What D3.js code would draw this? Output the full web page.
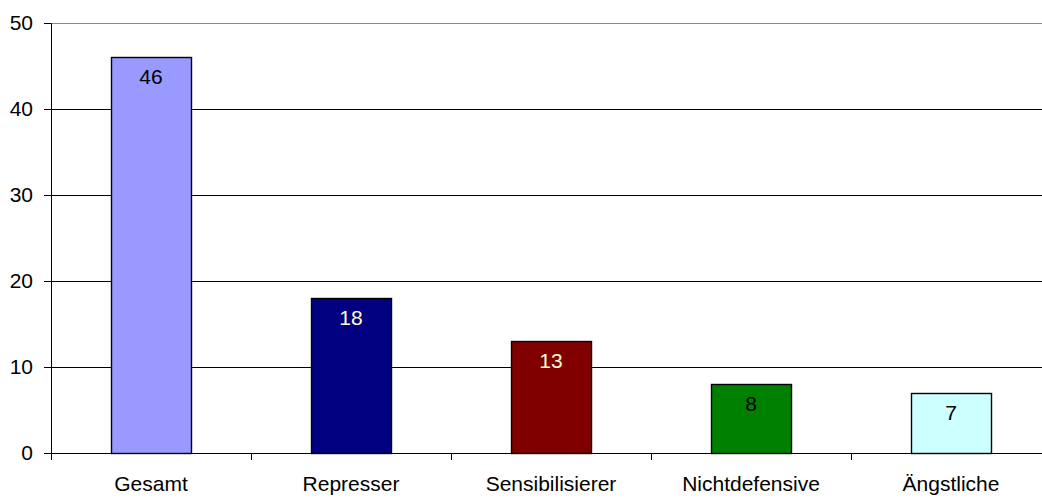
<!DOCTYPE html>
<html lang="de">
<head>
<meta charset="UTF-8">
<title>Gruppen</title>
<script src="https://cdn.jsdelivr.net/npm/d3@7"></script>
<style>
  body { margin: 0; background: #fff; }
  svg text { font-family: "Liberation Sans", Arial, sans-serif; font-size: 21px; }
</style>
</head>
<body>
<div id="grafica"></div>
<script>
// data
const categories = ['Gesamt', 'Represser', 'Sensibilisierer', 'Nichtdefensive', 'Ängstliche']
const values = [46, 18, 13, 8, 7]
const colors = ['#9999ff', '#000080', '#800000', '#008000', '#ccffff']
const labelColors = ['#000', '#ffffcc', '#ffffcc', '#000', '#000']
const yTicks = [0, 10, 20, 30, 40, 50]

const ancho_total = 1042
const alto_total = 498
const margin = { left: 51, right: -9, top: 23, bottom: 45 }
const ancho = ancho_total - margin.left - margin.right
const alto = alto_total - margin.top - margin.bottom

const svg = d3.select('#grafica')
  .append('svg')
  .attr('width', ancho_total)
  .attr('height', alto_total)

const g = svg.append('g')
  .attr('transform', `translate(${margin.left},${margin.top})`)

const x = d3.scaleBand()
  .domain(categories)
  .range([0, ancho])
  .paddingInner(0.6)
  .paddingOuter(0.3)

const y = d3.scaleLinear()
  .domain([0, 50])
  .range([alto, 0])

// gridlines
g.selectAll('.grid')
  .data(yTicks.filter(d => d > 0))
  .enter()
  .append('line')
  .attr('x1', 0)
  .attr('x2', ancho)
  .attr('y1', d => Math.round(y(d)) + 0.5)
  .attr('y2', d => Math.round(y(d)) + 0.5)
  .attr('stroke', d => d === 50 ? '#888' : '#000')
  .attr('stroke-width', 1)

// bars
g.selectAll('.bar')
  .data(values)
  .enter()
  .append('rect')
  .attr('x', (d, i) => Math.round(x(categories[i])) + 0.5)
  .attr('y', d => Math.round(y(d)) + 0.5)
  .attr('width', x.bandwidth())
  .attr('height', d => Math.round(y(0)) - Math.round(y(d)))
  .attr('fill', (d, i) => colors[i])
  .attr('stroke', '#000')
  .attr('stroke-width', 1.4)

// value labels
g.selectAll('.lbl')
  .data(values)
  .enter()
  .append('text')
  .attr('x', (d, i) => x(categories[i]) + x.bandwidth() / 2)
  .attr('y', d => y(d) + 27)
  .attr('text-anchor', 'middle')
  .attr('fill', (d, i) => labelColors[i])
  .text(d => d)

// y axis
const yAxis = g.append('g')
  .call(d3.axisLeft(y).tickValues(yTicks).tickSize(7).tickPadding(11))
yAxis.select('.domain').attr('stroke', '#000')
yAxis.selectAll('text').attr('fill', '#000')

// x axis: ticks sit between categories
const step = x.step()
const xAxis = g.append('g')
  .attr('transform', `translate(0,${alto})`)
xAxis.append('line')
  .attr('x1', 0).attr('x2', ancho)
  .attr('y1', 0.5).attr('y2', 0.5)
  .attr('stroke', '#000')
xAxis.selectAll('.tk')
  .data(d3.range(categories.length + 1))
  .enter()
  .append('line')
  .attr('x1', i => Math.round(i * step) + 0.5)
  .attr('x2', i => Math.round(i * step) + 0.5)
  .attr('y1', 0)
  .attr('y2', 7)
  .attr('stroke', '#000')
xAxis.selectAll('.cat')
  .data(categories)
  .enter()
  .append('text')
  .attr('x', d => x(d) + x.bandwidth() / 2)
  .attr('y', 38)
  .attr('text-anchor', 'middle')
  .attr('fill', '#000')
  .text(d => d)
</script>
</body>
</html>
